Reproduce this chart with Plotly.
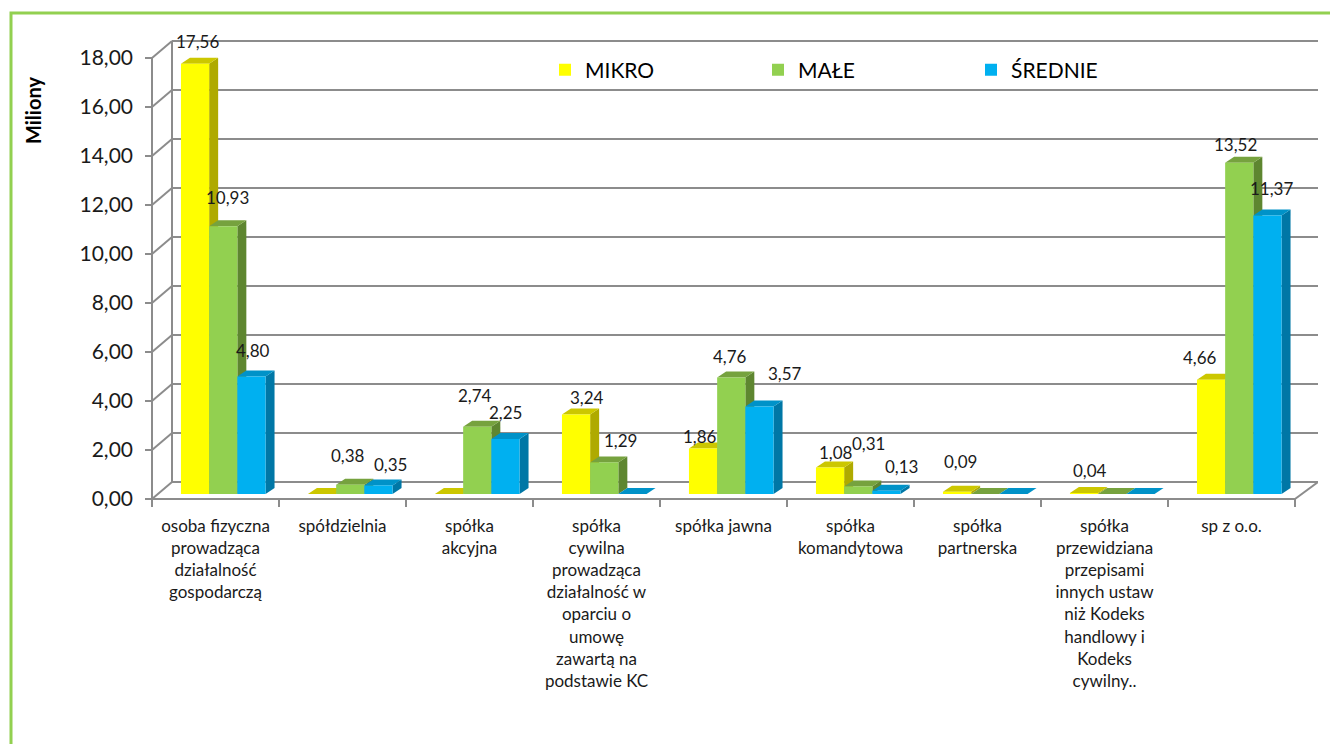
import plotly.graph_objects as go

categories = [
    "osoba fizyczna<br>prowadząca<br>działalność<br>gospodarczą",
    "spółdzielnia",
    "spółka<br>akcyjna",
    "spółka<br>cywilna<br>prowadząca<br>działalność w<br>oparciu o<br>umowę<br>zawartą na<br>podstawie KC",
    "spółka jawna",
    "spółka<br>komandytowa",
    "spółka<br>partnerska",
    "spółka<br>przewidziana<br>przepisami<br>innych ustaw<br>niż Kodeks<br>handlowy i<br>Kodeks<br>cywilny..",
    "sp z o.o.",
]
mikro = [17.56, 0, 0, 3.24, 1.86, 1.08, 0.09, 0.04, 4.66]
male = [10.93, 0.38, 2.74, 1.29, 4.76, 0.31, 0, 0, 13.52]
srednie = [4.80, 0.35, 2.25, 0, 3.57, 0.13, 0, 0, 11.37]
series_names = ["MIKRO", "MAŁE", "ŚREDNIE"]
y_ticks = [0, 2, 4, 6, 8, 10, 12, 14, 16, 18]

series = [mikro, male, srednie]
front_col = ["#FFFF00", "#92D050", "#00B0F0"]
top_col = ["#CCC700", "#76A23E", "#0092C8"]
side_col = ["#AFAA00", "#5E8630", "#0077A6"]

# label nudges (style): (series, category) -> (xshift px, yshift px)
DEFAULT_NUDGE = (3, 25)
LABEL_NUDGE = {
    (0, 0): (2, 22), (1, 0): (4, 29), (2, 0): (2, 26),
    (1, 1): (-2, 29), (2, 1): (12, 21),
    (1, 2): (-2, 31), (2, 2): (0, 26),
    (0, 3): (11, 17), (1, 3): (16, 22),
    (0, 4): (-3, 12), (1, 4): (-1, 21), (2, 4): (26, 33),
    (0, 5): (6, 15), (1, 5): (10, 43), (2, 5): (15, 24),
    (0, 6): (3, 30), (0, 7): (6, 23),
    (0, 8): (-11, 22), (1, 8): (-4, 18), (2, 8): (4, 27),
}

FONT = "Lato, 'Open Sans', sans-serif"
OFF = 8                      # page body margin
W, H = 1338 - 2 * OFF, 752 - 2 * OFF
L, R_PX, T, B_PX = 142 - OFF, 1318 - OFF, 20 - OFF, 508 - OFF
X0_PX = 152 - OFF            # left edge of first category (front plane)
PX_X = 127.0                 # px per category
PX_Y = 24.5                  # px per unit
ZERO_PX = 494 - OFF          # bar base pixel
x_lo = -0.5 - (X0_PX - L) / PX_X
x_hi = -0.5 + (R_PX - X0_PX) / PX_X
y_hi = (ZERO_PX - T) / PX_Y
y_lo = (ZERO_PX - B_PX) / PX_Y

front_dy = -5 / PX_Y
back_dy = 12 / PX_Y
back_dx = 20 / PX_X
bar_dx = 9 / PX_X
bar_dy = 6 / PX_Y
bw = 0.222
offsets = [-0.272, -0.050, 0.172]
n = len(categories)


def px_x(p):
    return (p - OFF - L) / (R_PX - L)


def px_y(p):
    return (B_PX - (p - OFF)) / (B_PX - T)


fig = go.Figure()
for k in range(3):
    fig.add_trace(go.Bar(
        x=list(range(n)), y=series[k], name=series_names[k],
        width=bw, offset=offsets[k],
        marker=dict(color=front_col[k], line=dict(width=0)),
        hoverinfo="skip",
    ))

shapes = []
grid = dict(color="#8C8C8C", width=2)
for v in y_ticks:
    shapes.append(dict(type="line", xref="x", yref="y", layer="below",
                       x0=-0.5 + back_dx, x1=x_hi, y0=v + back_dy, y1=v + back_dy, line=grid))
    shapes.append(dict(type="line", xref="x", yref="y", layer="below",
                       x0=-0.5, x1=-0.5 + back_dx, y0=v + front_dy, y1=v + back_dy, line=grid))
    shapes.append(dict(type="line", xref="x", yref="y", layer="below",
                       x0=-0.5 - 7 / PX_X, x1=-0.5, y0=v + front_dy, y1=v + front_dy, line=grid))
shapes.append(dict(type="line", xref="x", yref="y", layer="below",
                   x0=-0.5, x1=-0.5, y0=front_dy, y1=y_ticks[-1] + front_dy, line=grid))
shapes.append(dict(type="line", xref="x", yref="y", layer="below",
                   x0=-0.5 + back_dx, x1=-0.5 + back_dx, y0=back_dy, y1=y_ticks[-1] + back_dy, line=grid))
shapes.append(dict(type="line", xref="x", yref="y", layer="below",
                   x0=-0.5, x1=n - 0.5, y0=front_dy, y1=front_dy, line=grid))
shapes.append(dict(type="line", xref="x", yref="y", layer="below",
                   x0=n - 0.5, x1=x_hi, y0=front_dy, y1=back_dy, line=grid))
for i in range(n + 1):
    shapes.append(dict(type="line", xref="x", yref="y", layer="below",
                       x0=-0.5 + i, x1=-0.5 + i, y0=front_dy, y1=front_dy - 8 / PX_Y, line=grid))

for i in range(n):
    for k in range(3):
        v = series[k][i]
        x0 = i + offsets[k]
        x1 = x0 + bw
        side = (f"M {x1},0 L {x1},{v} L {x1 + bar_dx},{v + bar_dy} "
                f"L {x1 + bar_dx},{bar_dy} Z")
        top = (f"M {x0},{v} L {x1},{v} L {x1 + bar_dx},{v + bar_dy} "
               f"L {x0 + bar_dx},{v + bar_dy} Z")
        shapes.append(dict(type="path", xref="x", yref="y", layer="below", path=side,
                           fillcolor=side_col[k], line=dict(width=0)))
        shapes.append(dict(type="path", xref="x", yref="y", layer="below", path=top,
                           fillcolor=top_col[k], line=dict(width=0)))

shapes.append(dict(type="rect", xref="paper", yref="paper",
                   x0=px_x(11), x1=1.2, y0=-1.0, y1=px_y(13),
                   line=dict(color="#92D050", width=3), fillcolor="rgba(0,0,0,0)"))

annotations = []
for i in range(n):
    for k in range(3):
        v = series[k][i]
        if v > 0:
            dx, dy = LABEL_NUDGE.get((k, i), DEFAULT_NUDGE)
            annotations.append(dict(
                x=i + offsets[k] + bw / 2, y=v, xref="x", yref="y",
                text=f"{v:.2f}".replace(".", ","), showarrow=False,
                xshift=dx, yshift=dy, xanchor="center", yanchor="middle",
                font=dict(family=FONT, size=17, color="#1a1a1a")))
annotations.append(dict(
    x=px_x(33), y=px_y(111), xref="paper", yref="paper",
    xanchor="center", yanchor="middle",
    text="<b>Miliony</b>", textangle=-90, showarrow=False,
    font=dict(family=FONT, size=20, color="#000000")))

fig.update_layout(
    width=W, height=H, autosize=False,
    margin=dict(l=L, r=W - R_PX, t=T, b=H - B_PX, pad=0),
    paper_bgcolor="white", plot_bgcolor="white",
    barmode="overlay",
    shapes=shapes, annotations=annotations,
    showlegend=True,
    legend=dict(orientation="h", x=px_x(545), y=px_y(70),
                xanchor="left", yanchor="middle", bgcolor="rgba(0,0,0,0)",
                entrywidth=168, entrywidthmode="pixels",
                font=dict(family=FONT, size=21, color="#000000")),
    xaxis=dict(range=[x_lo, x_hi], tickvals=list(range(n)), ticktext=categories,
               showgrid=False, zeroline=False, showline=False, ticks="",
               ticklabelstandoff=6,
               tickfont=dict(family=FONT, size=17, color="#1a1a1a")),
    yaxis=dict(range=[y_lo, y_hi], tickvals=[v + front_dy for v in y_ticks],
               ticktext=[f"{v:.2f}".replace(".", ",") for v in y_ticks],
               showgrid=False, zeroline=False, showline=False, ticks="",
               ticklabelstandoff=8,
               tickfont=dict(family=FONT, size=21, color="#1a1a1a")),
)

fig.write_html("out.html")
